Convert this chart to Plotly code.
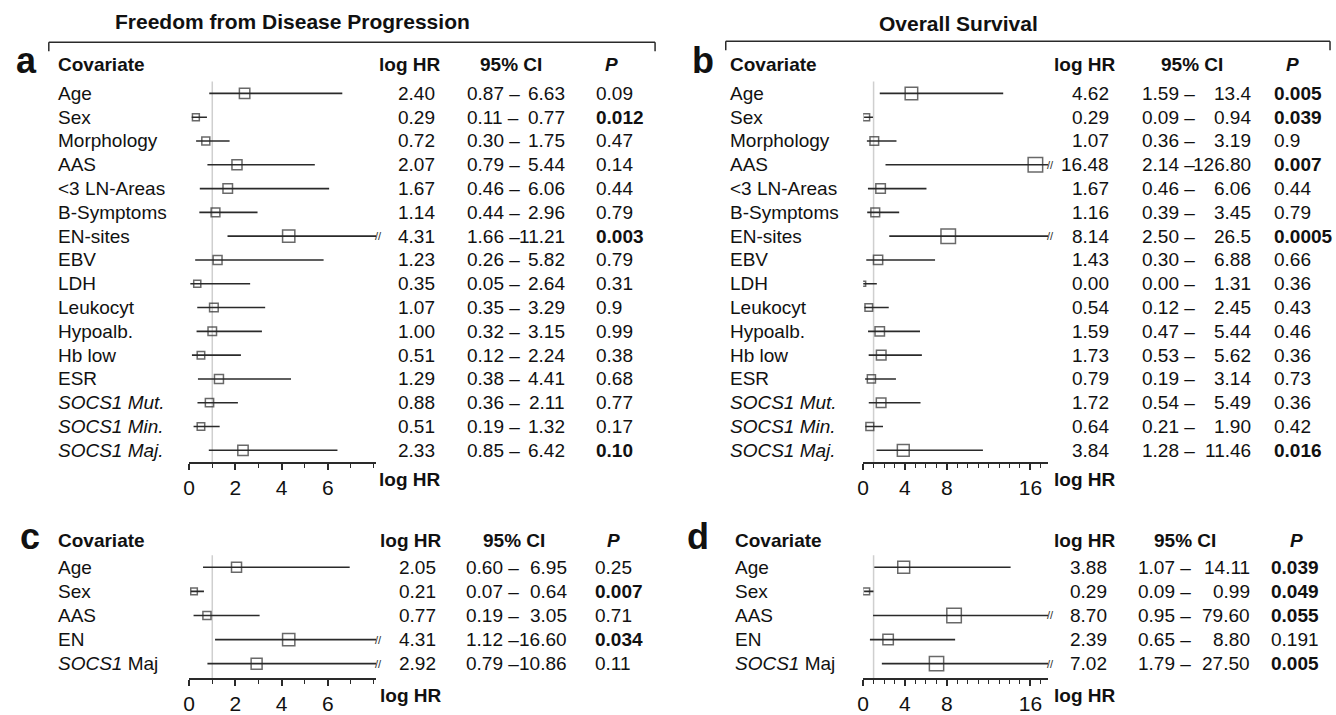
import plotly.graph_objects as go

# ---------------- DATA ----------------
labels_ab = ["Age", "Sex", "Morphology", "AAS", "&lt;3 LN-Areas", "B-Symptoms", "EN-sites", "EBV",
             "LDH", "Leukocyt", "Hypoalb.", "Hb low", "ESR",
             "<i>SOCS1 Mut.</i>", "<i>SOCS1 Min.</i>", "<i>SOCS1 Maj.</i>"]

hr_a = ["2.40", "0.29", "0.72", "2.07", "1.67", "1.14", "4.31", "1.23", "0.35", "1.07", "1.00", "0.51", "1.29", "0.88", "0.51", "2.33"]
lo_a = ["0.87", "0.11", "0.30", "0.79", "0.46", "0.44", "1.66", "0.26", "0.05", "0.35", "0.32", "0.12", "0.38", "0.36", "0.19", "0.85"]
hi_a = ["6.63", "0.77", "1.75", "5.44", "6.06", "2.96", "11.21", "5.82", "2.64", "3.29", "3.15", "2.24", "4.41", "2.11", "1.32", "6.42"]
p_a = ["0.09", "0.012", "0.47", "0.14", "0.44", "0.79", "0.003", "0.79", "0.31", "0.9", "0.99", "0.38", "0.68", "0.77", "0.17", "0.10"]
sig_a = [0, 1, 0, 0, 0, 0, 1, 0, 0, 0, 0, 0, 0, 0, 0, 1]

hr_b = ["4.62", "0.29", "1.07", "16.48", "1.67", "1.16", "8.14", "1.43", "0.00", "0.54", "1.59", "1.73", "0.79", "1.72", "0.64", "3.84"]
lo_b = ["1.59", "0.09", "0.36", "2.14", "0.46", "0.39", "2.50", "0.30", "0.00", "0.12", "0.47", "0.53", "0.19", "0.54", "0.21", "1.28"]
hi_b = ["13.4", "0.94", "3.19", "126.80", "6.06", "3.45", "26.5", "6.88", "1.31", "2.45", "5.44", "5.62", "3.14", "5.49", "1.90", "11.46"]
p_b = ["0.005", "0.039", "0.9", "0.007", "0.44", "0.79", "0.0005", "0.66", "0.36", "0.43", "0.46", "0.36", "0.73", "0.36", "0.42", "0.016"]
sig_b = [1, 1, 0, 1, 0, 0, 1, 0, 0, 0, 0, 0, 0, 0, 0, 1]

labels_cd = ["Age", "Sex", "AAS", "EN", "<i>SOCS1</i> Maj"]

hr_c = ["2.05", "0.21", "0.77", "4.31", "2.92"]
lo_c = ["0.60", "0.07", "0.19", "1.12", "0.79"]
hi_c = ["6.95", "0.64", "3.05", "16.60", "10.86"]
p_c = ["0.25", "0.007", "0.71", "0.034", "0.11"]
sig_c = [0, 1, 0, 1, 0]

hr_d = ["3.88", "0.29", "8.70", "2.39", "7.02"]
lo_d = ["1.07", "0.09", "0.95", "0.65", "1.79"]
hi_d = ["14.11", "0.99", "79.60", "8.80", "27.50"]
p_d = ["0.039", "0.049", "0.055", "0.191", "0.005"]
sig_d = [1, 1, 1, 0, 1]

ticks_ac = [0, 2, 4, 6]
ticks_bd = [0, 4, 8, 16]

titles = ["Freedom from Disease Progression", "Overall Survival"]
panel_letters = ["a", "b", "c", "d"]

# ---------------- LAYOUT / STYLE ----------------
W, H = 1336, 715
FONT = "Liberation Sans, Arial, Helvetica, sans-serif"
INK = "#111111"
LINE = "#2a2a2a"


def px(x):
    return x / W


def py(y):
    return 1 - y / H


geoms = [
    dict(letter_x=21, label_x=51, head_y=66, row0=95, step=24.2, axis_y=470, tick_y=488,
         x0=184, unit=23.2, xmax=8.1, ticks=ticks_ac,
         hr_r=432, ci_l=462, ci_r=563, p_l=592, h_hr=405, h_ci=507, h_p=608),
    dict(letter_x=700, label_x=726, head_y=66, row0=95, step=24.2, axis_y=470, tick_y=488,
         x0=861, unit=10.5, xmax=17.7, ticks=ticks_bd,
         hr_r=1109, ci_l=1140, ci_r=1252, p_l=1273, h_hr=1083, h_ci=1191, h_p=1292),
    dict(letter_x=24, label_x=51, head_y=550, row0=577, step=24.5, axis_y=690, tick_y=707,
         x0=184, unit=23.2, xmax=8.1, ticks=ticks_ac,
         hr_r=433, ci_l=461, ci_r=565, p_l=591, h_hr=406, h_ci=510, h_p=610),
    dict(letter_x=695, label_x=731, head_y=550, row0=577, step=24.5, axis_y=690, tick_y=707,
         x0=861, unit=10.5, xmax=17.7, ticks=ticks_bd,
         hr_r=1107, ci_l=1136, ci_r=1251, p_l=1270, h_hr=1083, h_ci=1184, h_p=1296),
]

panels = [
    (labels_ab, hr_a, lo_a, hi_a, p_a, sig_a),
    (labels_ab, hr_b, lo_b, hi_b, p_b, sig_b),
    (labels_cd, hr_c, lo_c, hi_c, p_c, sig_c),
    (labels_cd, hr_d, lo_d, hi_d, p_d, sig_d),
]

fig = go.Figure()
annotations = []
shapes = []
layout_axes = {}


def txt(text, x, y, xanchor="left", size=19, bold=False, xref="paper", yref="paper", color=INK):
    if bold:
        text = "<b>" + text + "</b>"
    annotations.append(dict(text=text, x=x, y=y, xref=xref, yref=yref, xanchor=xanchor,
                            yanchor="middle", showarrow=False, borderpad=0,
                            font=dict(family=FONT, size=size, color=color)))


for i, ((labels, hr, lo, hi, pv, sig), g) in enumerate(zip(panels, geoms), start=1):
    xa = "x" if i == 1 else f"x{i}"
    ya = "y" if i == 1 else f"y{i}"
    n = len(labels)
    top_px = g["row0"] - g["step"] / 2
    v_bottom = (g["axis_y"] - g["row0"]) / g["step"]
    xend = g["x0"] + g["xmax"] * g["unit"]

    layout_axes["xaxis" if i == 1 else f"xaxis{i}"] = dict(
        domain=[px(g["x0"]), px(xend)], range=[0, g["xmax"]], anchor=ya,
        showline=True, linecolor=LINE, linewidth=1.5, showgrid=False, zeroline=False,
        ticks="outside", tickvals=g["ticks"], ticktext=[str(t) for t in g["ticks"]],
        ticklen=6, tickwidth=1.5, tickcolor=LINE,
        minor=dict(tickmode="linear", tick0=0, dtick=1, ticks="outside", ticklen=4,
                   tickwidth=1.2, tickcolor=LINE, showgrid=False),
        tickfont=dict(family=FONT, size=21, color=INK), fixedrange=True)
    layout_axes["yaxis" if i == 1 else f"yaxis{i}"] = dict(
        domain=[py(g["axis_y"]), py(top_px)], range=[v_bottom, -0.5], anchor=xa,
        visible=False, fixedrange=True)

    # reference line at HR = 1
    shapes.append(dict(type="line", xref=xa, yref=f"{ya} domain", x0=1, x1=1, y0=0, y1=1,
                       line=dict(color="#cfcfcf", width=1.5), layer="below"))

    # CI lines
    cx, cy = [], []
    for r in range(n):
        lo_v = float(lo[r])
        hi_v = min(float(hi[r]), g["xmax"])
        cx += [lo_v, hi_v, None]
        cy += [r, r, None]
        if float(hi[r]) > g["xmax"]:
            annotations.append(dict(text="//", x=g["xmax"], y=r, xref=xa, yref=ya, xanchor="left",
                                    yanchor="middle", showarrow=False, xshift=-3,
                                    font=dict(family=FONT, size=11, color=LINE)))
    fig.add_trace(go.Scatter(x=cx, y=cy, xaxis=xa, yaxis=ya, mode="lines",
                             line=dict(color=LINE, width=1.6), hoverinfo="skip", showlegend=False))
    # point estimate boxes
    hv = [float(v) for v in hr]
    sizes = [min(14.5, 5 + 3.5 * v ** 0.5) for v in hv]
    fig.add_trace(go.Scatter(x=hv, y=list(range(n)), xaxis=xa, yaxis=ya, mode="markers",
                             marker=dict(symbol="square-open", size=sizes, color=LINE,
                                         line=dict(width=1.5, color=LINE)),
                             showlegend=False))

    # header row
    hy = py(g["head_y"])
    txt(panel_letters[i - 1], px(g["letter_x"]), py(g["head_y"] - 4), xanchor="center", size=36, bold=True)
    txt("Covariate", px(g["label_x"]), hy, size=19, bold=True)
    txt("log HR", px(g["h_hr"]), hy, xanchor="center", size=19, bold=True)
    txt("95% CI", px(g["h_ci"]), hy, xanchor="center", size=19, bold=True)
    txt("<i>P</i>", px(g["h_p"]), hy, xanchor="center", size=19, bold=True)

    # table rows
    for r in range(n):
        txt(labels[r], px(g["label_x"]), r, yref=ya)
        txt(hr[r], px(g["hr_r"]), r, xanchor="right", yref=ya)
        txt(lo[r] + " \u2013", px(g["ci_l"]), r, yref=ya)
        txt(hi[r], px(g["ci_r"]), r, xanchor="right", yref=ya)
        txt(pv[r], px(g["p_l"]), r, yref=ya, bold=bool(sig[r]))

    # axis title
    txt("log HR", px(g["h_hr"]), py(g["tick_y"]), xanchor="center", size=19, bold=True)

# titles and brackets
txt(titles[0], px(108), py(22), size=21, bold=True)
txt(titles[1], px(957), py(24), xanchor="center", size=21, bold=True)
for (xl, xr, yb) in [(43, 652, 43), (723, 1330, 42)]:
    for seg in [(xl, yb + 9, xl, yb), (xl, yb, xr, yb), (xr, yb, xr, yb + 9)]:
        shapes.append(dict(type="line", xref="paper", yref="paper",
                           x0=px(seg[0]), y0=py(seg[1]), x1=px(seg[2]), y1=py(seg[3]),
                           line=dict(color=LINE, width=1.5)))

fig.update_layout(width=W, height=H, autosize=False, margin=dict(l=0, r=0, t=0, b=0),
                  paper_bgcolor="white", plot_bgcolor="rgba(0,0,0,0)",
                  annotations=annotations, shapes=shapes, showlegend=False,
                  font=dict(family=FONT, color=INK), **layout_axes)

fig.write_html("out.html", config={"displayModeBar": False},
               post_script="document.body.style.margin='0';document.body.style.overflow='hidden';")
